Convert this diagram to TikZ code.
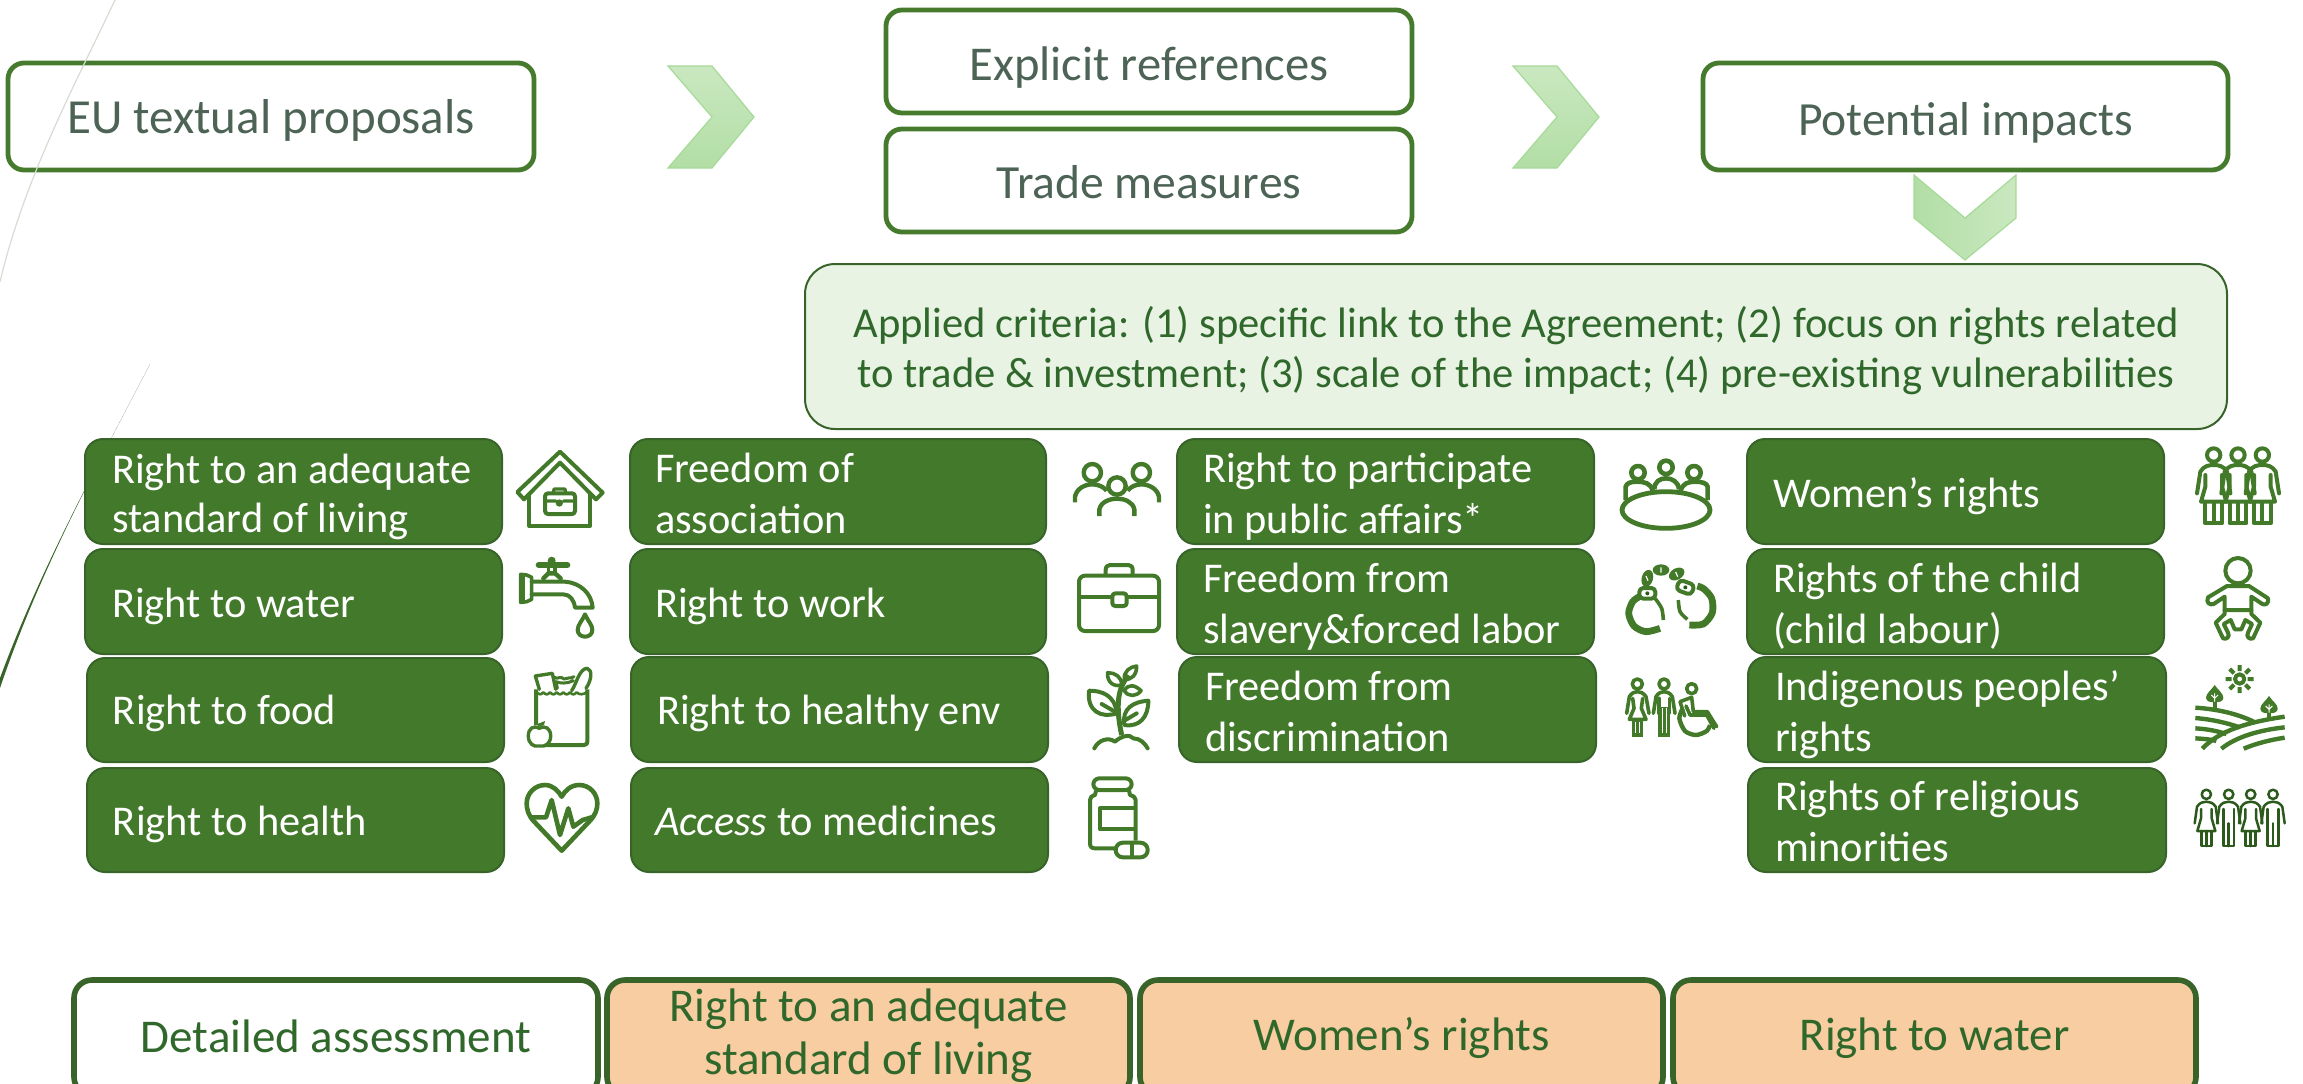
\documentclass[tikz,border=0pt]{standalone}
\usepackage{fontspec}
\setmainfont{Carlito}
\definecolor{boxgreen}{HTML}{43792B}
\definecolor{boxedge}{HTML}{38642A}
\definecolor{topedge}{HTML}{467A2D}
\definecolor{icongreen}{HTML}{437A2A}
\definecolor{icondark}{HTML}{2C5A1C}
\definecolor{slatetext}{HTML}{4C6355}
\definecolor{greentext}{HTML}{30682B}
\definecolor{critfill}{HTML}{E8F3E4}
\definecolor{orangefill}{HTML}{F7CDA1}
\definecolor{chevlight}{HTML}{CAE8C0}
\definecolor{chevdark}{HTML}{B2DEA5}
\definecolor{chevedge}{HTML}{A6DA98}
\definecolor{thincurve}{HTML}{D6DDD2}
\newcommand{\tl}[3][24.5pt]{\vtop{\baselineskip=#1\lineskiplimit=-100pt\hbox{#2}\hbox{#3}}}
\newcommand{\ctl}[3][28pt]{\vtop{\baselineskip=#1\lineskiplimit=-100pt\halign{\hfil##\hfil\cr #2\cr #3\cr}}}
% left aligned box: style,name,x1,y1,x2,y2,text x,baseline y,text
\newcommand{\rb}[9]{%
  \pgfmathsetmacro\rbw{(#5-#3)*0.5}\pgfmathsetmacro\rbh{(#6-#4)*0.5}%
  \pgfmathsetmacro\rbi{(#7-#3)*0.5}\pgfmathsetmacro\rbd{(#8-(#4+#6)/2)*0.5}%
  \node[#1,minimum width=\rbw pt,minimum height=\rbh pt] (#2) at ({(#3+#5)/2},{(#4+#6)/2})
    {\makebox[\rbw pt][l]{\hspace*{\rbi pt}\raisebox{-\rbd pt}[0pt][0pt]{#9}}};}
% centred box: style,name,x1,y1,x2,y2,baseline y,text
\newcommand{\cb}[8]{%
  \pgfmathsetmacro\rbw{(#5-#3)*0.5}\pgfmathsetmacro\rbh{(#6-#4)*0.5}%
  \pgfmathsetmacro\rbd{(#7-(#4+#6)/2)*0.5}%
  \node[#1,minimum width=\rbw pt,minimum height=\rbh pt] (#2) at ({(#3+#5)/2},{(#4+#6)/2})
    {\makebox[\rbw pt][c]{\raisebox{-\rbd pt}[0pt][0pt]{#8}}};}
\tikzset{
  basebox/.style={rectangle,inner sep=0pt,outer sep=0pt},
  greenbox/.style={basebox,rounded corners=9pt,draw=boxedge,line width=1pt,fill=boxgreen,text=white,font=\fontsize{21.2}{25}\selectfont},
  topbox/.style={basebox,rounded corners=8pt,draw=topedge,line width=2.4pt,fill=white,text=slatetext,font=\fontsize{23.8}{28}\selectfont},
  critbox/.style={basebox,rounded corners=15pt,draw=boxedge,line width=1pt,fill=critfill,text=greentext,font=\fontsize{21.3}{25}\selectfont},
  botbox/.style={basebox,rounded corners=9pt,draw=boxedge,line width=2.8pt,text=greentext,font=\fontsize{23.5}{28}\selectfont},
  chevv/.style={draw=chevedge,line width=.6pt,top color=chevlight,bottom color=chevdark},
  chevh/.style={draw=chevedge,line width=.6pt,left color=chevdark,right color=chevlight},
  icon/.style={draw=icongreen,line width=2pt,line join=round,line cap=round},
  thinperson/.style={draw=icondark,line width=1.25pt,line join=round,line cap=round},
  zoomed/.style={x=0.16667pt,y=-0.16667pt},
}
\newcommand{\womanA}[1]{\begin{scope}[shift={(#1,0)}]
  \draw[icon] (0,45) circle (20);
  \draw[icon] (-50,160) -- (-40,95) .. controls (-30,78) and (-15,75) .. (0,75) .. controls (15,75) and (30,78) .. (40,95) -- (50,160);
  \draw[icon] (-25,105) -- (-25,140) -- (-38,185) -- (38,185) -- (25,140) -- (25,105);
  \draw[icon,line cap=butt] (-25,185) -- (-25,250) -- (25,250) -- (25,185) (0,185) -- (0,250);
\end{scope}}
\newcommand{\womanB}[1]{\begin{scope}[shift={(#1,0)}]
  \draw[thinperson] (0,403) circle (14);
  \draw[thinperson] (-35,490) -- (-28,440) .. controls (-20,428) and (-10,425) .. (0,425) .. controls (10,425) and (20,428) .. (28,440) -- (35,490);
  \draw[thinperson] (-16,447) -- (-16,475) -- (-27,513) -- (27,513) -- (16,475) -- (16,447);
  \draw[thinperson] (-15,513) -- (-15,558) -- (15,558) -- (15,513) (0,513) -- (0,558);
\end{scope}}
\newcommand{\manB}[1]{\begin{scope}[shift={(#1,0)}]
  \draw[thinperson] (0,403) circle (14);
  \draw[thinperson] (-35,490) -- (-28,440) .. controls (-20,428) and (-10,425) .. (0,425) .. controls (10,425) and (20,428) .. (28,440) -- (35,490);
  \draw[thinperson] (-16,447) -- (-16,558) -- (16,558) -- (16,447) (0,490) -- (0,558);
\end{scope}}
\newcommand{\treeleaf}[2]{\begin{scope}[shift={(#1,#2)}]
  \fill[icongreen] (0,0) .. controls (-10,15) and (-26,25) .. (-26,38) .. controls (-26,50) and (-12,52) .. (0,52) .. controls (12,52) and (26,50) .. (26,38) .. controls (26,25) and (10,15) .. (0,0) -- cycle;
  \draw[white,line width=.5pt] (0,25) -- (0,50) (-10,30) -- (0,40) (10,30) -- (0,40);
\end{scope}}
\begin{document}
\begin{tikzpicture}[x=0.5pt,y=-0.5pt]
\useasboundingbox (0,0) rectangle (2303,1083);
\clip (0,0) rectangle (2303,1083);
\fill[white] (0,0) rectangle (2303,1083);
% decorative curve behind the boxes
\fill[boxedge] (150,364) .. controls (95,470) and (40,570) .. (0,678) -- (0,688) .. controls (40,570) and (95,470) .. cycle;
% top row
\cb{topbox,font=\fontsize{24.5}{28}\selectfont}{eu}{8}{63}{534}{170}{133}{EU textual proposals}
\cb{topbox,font=\fontsize{24.3}{28}\selectfont}{explicit}{886}{10}{1412}{113}{80}{Explicit references}
\cb{topbox}{trade}{886}{129}{1412}{232}{198}{Trade measures}
\cb{topbox}{impacts}{1703}{63}{2228}{170}{135}{Potential impacts}
% thin decorative curve lies over the first box
\draw[thincurve,line width=.6pt] (115,0) .. controls (80,75) and (25,175) .. (0,282);
\draw[chevv] (668,66) -- (712,66) -- (754,117) -- (712,168) -- (668,168) -- (712,117) -- cycle;
\draw[chevv] (1513,66) -- (1557,66) -- (1599,117) -- (1557,168) -- (1513,168) -- (1557,117) -- cycle;
\draw[chevh] (1914,175) -- (1965,218) -- (2016,175) -- (2016,218) -- (1965,260) -- (1914,218) -- cycle;
% criteria
\cb{critbox}{criteria}{805}{264}{2227}{429}{337}{\ctl[25pt]{Applied criteria: (1) specific link to the Agreement; (2) focus on rights related}{to trade \& investment; (3) scale of the impact; (4) pre-existing vulnerabilities}}
% column 1
\rb{greenbox}{r11}{85}{439}{502}{544}{112}{483}{\tl{Right to an adequate}{standard of living}}
\rb{greenbox}{r12}{85}{549}{502}{654}{112}{617}{Right to water}
\rb{greenbox}{r13}{87}{658}{504}{762}{113}{724}{Right to food}
\rb{greenbox}{r14}{87}{768}{504}{872}{113}{835}{Right to health}
% column 2
\rb{greenbox}{r21}{630}{439}{1046}{544}{655}{482}{\tl[25.5pt]{Freedom of}{association}}
\rb{greenbox}{r22}{630}{549}{1046}{654}{655}{617}{Right to work}
\rb{greenbox}{r23}{631}{657}{1048}{762}{657}{724}{Right to healthy env}
\rb{greenbox}{r24}{631}{768}{1048}{872}{655}{835}{{\itshape Access} to medicines}
% column 3
\rb{greenbox}{r31}{1177}{439}{1594}{544}{1203}{482}{\tl[25.5pt]{Right to participate}{in public affairs*}}
\rb{greenbox}{r32}{1177}{549}{1594}{654}{1203}{592}{\tl[25.5pt]{Freedom from}{slavery\&forced labor}}
\rb{greenbox}{r33}{1179}{657}{1596}{762}{1205}{700}{\tl[25.5pt]{Freedom from}{discrimination}}
% column 4
\rb{greenbox}{r41}{1747}{439}{2164}{544}{1773}{507}{Women’s rights}
\rb{greenbox}{r42}{1747}{549}{2164}{654}{1773}{592}{\tl[25.5pt]{Rights of the child}{(child labour)}}
\rb{greenbox}{r43}{1748}{657}{2166}{762}{1775}{700}{\tl[25.5pt]{Indigenous peoples’}{rights}}
\rb{greenbox}{r44}{1748}{768}{2166}{872}{1775}{810}{\tl[25.5pt]{Rights of religious}{minorities}}
% bottom row
\cb{botbox,fill=white}{detailed}{74}{980}{598}{1095}{1052}{Detailed assessment}
\cb{botbox,fill=orangefill}{adequate}{607}{980}{1130}{1095}{1021}{\ctl[26.5pt]{Right to an adequate}{standard of living}}
\cb{botbox,fill=orangefill}{women}{1140}{980}{1663}{1095}{1050}{Women’s rights}
\cb{botbox,fill=orangefill}{water}{1673}{980}{2196}{1095}{1050}{Right to water}
% ---- icons column 1, upper
\begin{scope}[shift={(510,440)},zoomed]
  \draw[icon] (150,35) -- (278,158) -- (258,178) -- (150,68) -- (42,178) -- (22,156) -- cycle;
  \draw[icon,line cap=butt] (58,160) -- (58,258) -- (240,258) -- (240,158);
  \draw[icon,rounded corners=1.5pt] (105,160) rectangle (195,222);
  \draw[icon,line width=1.6pt] (130,158) -- (132,147) -- (165,147) -- (167,158) (105,183) -- (138,183) (160,183) -- (195,183);
  \fill[icongreen] (148,189) circle (11);
  \draw[icon,line width=3pt] (86,375) -- (172,375);
  \fill[icongreen] (125,362) circle (12);
  \draw[icon,line width=1.6pt] (115,378) -- (115,400) (135,378) -- (135,400);
  \draw[icon,line width=2.2pt] (100,415) -- (115,400) -- (135,400) -- (152,415);
  \draw[icon,line width=1.8pt] (32,403) -- (50,405) -- (65,412) -- (65,478) -- (50,485) -- (32,487) -- cycle;
  \fill[icongreen] (32,403) rectangle (44,487);
  \draw[icon] (65,425) -- (165,425) .. controls (210,428) and (245,460) .. (248,503) -- (195,503) .. controls (192,480) and (180,463) .. (160,463) -- (65,463);
  \draw[icon] (225,523) .. controls (215,545) and (203,555) .. (203,570) .. controls (203,582) and (213,590) .. (225,590) .. controls (237,590) and (247,582) .. (247,570) .. controls (247,555) and (235,545) .. (225,523) -- cycle;
\end{scope}
% ---- icons column 1, lower
\begin{scope}[shift={(510,660)},zoomed]
  \draw[icon,line cap=butt] (78,88) -- (78,195) (108,255) -- (222,255) .. controls (230,255) and (232,250) .. (232,245) -- (232,88);
  \draw[icon,line width=1.3pt] (78,95) .. controls (88,105) and (92,105) .. (100,97) .. controls (108,105) and (112,105) .. (120,97) .. controls (128,105) and (132,105) .. (140,97) .. controls (148,105) and (152,105) .. (160,97) .. controls (168,105) and (172,105) .. (180,97) .. controls (188,105) and (192,105) .. (200,97) .. controls (208,105) and (220,105) .. (232,95);
  \draw[icon,line width=1.7pt] (88,88) -- (76,48) -- (127,40) -- (137,88);
  \draw[icon,line width=1.5pt] (133,52) .. controls (145,60) and (150,45) .. (162,57) .. controls (172,50) and (180,58) .. (192,50) (142,85) -- (138,65) .. controls (150,70) and (170,72) .. (190,62);
  \draw[icon,line width=1.7pt] (185,92) .. controls (200,70) and (208,25) .. (232,25) .. controls (248,30) and (245,60) .. (228,85);
  \draw[icon,line width=1.7pt] (88,205) .. controls (70,195) and (55,205) .. (55,228) .. controls (55,250) and (70,262) .. (88,258) .. controls (106,262) and (122,250) .. (122,228) .. controls (122,205) and (106,195) .. (88,205) -- cycle;
  \fill[icongreen] (82,192) -- (105,183) -- (102,195) -- (85,200) -- cycle;
  \draw[icon,line width=2.3pt] (155,572) -- (70,482) .. controls (55,465) and (50,448) .. (50,430) .. controls (50,400) and (75,375) .. (105,375) .. controls (128,375) and (145,392) .. (155,410) .. controls (165,392) and (182,375) .. (208,375) .. controls (238,375) and (262,400) .. (262,430) .. controls (262,448) and (256,465) .. (240,482) -- cycle;
  \draw[icon,line width=2.3pt] (65,472) -- (108,472) -- (125,420) -- (150,525) -- (175,445) -- (190,500) -- (218,480) -- (245,472);
\end{scope}
% ---- icons column 2
\begin{scope}[shift={(1065,450)},zoomed]
  \draw[icon,line width=2.2pt] (82,68) circle (26) (229,68) circle (26) (156,108) circle (26);
  \draw[icon,line width=2.2pt,line cap=butt] (30,157) -- (30,140) .. controls (35,115) and (60,103) .. (82,103) .. controls (100,103) and (115,110) .. (125,122);
  \draw[icon,line width=2.2pt,line cap=butt] (282,157) -- (282,140) .. controls (277,115) and (250,103) .. (229,103) .. controls (212,103) and (197,110) .. (188,122);
  \draw[icon,line width=2.2pt,line cap=butt] (103,198) -- (103,178) .. controls (108,155) and (135,146) .. (156,146) .. controls (178,146) and (203,155) .. (208,178) -- (208,198);
  \draw[icon,rounded corners=3pt] (42,377) rectangle (282,543);
  \draw[icon,line cap=butt] (122,377) -- (122,360) .. controls (122,350) and (128,345) .. (135,345) -- (190,345) .. controls (198,345) and (203,350) .. (203,360) -- (203,377);
  \draw[icon,line cap=butt] (42,442) -- (142,442) (185,442) -- (282,442);
  \draw[icon,rounded corners=1.5pt] (142,430) rectangle (185,468);
  \draw[icon,line width=2.5pt,line cap=butt] (170,855) .. controls (160,810) and (155,760) .. (165,725) .. controls (172,700) and (180,690) .. (190,675);
  \draw[icon] (72,722) .. controls (110,722) and (150,735) .. (155,790) .. controls (110,805) and (65,785) .. (72,722) -- cycle;
  \draw[icon] (110,762) -- (155,788);
  \draw[icon] (250,752) .. controls (205,755) and (170,775) .. (178,825) .. controls (225,832) and (250,800) .. (250,752) -- cycle;
  \draw[icon] (215,790) -- (178,812);
  \draw[icon,line width=1.8pt] (128,668) .. controls (150,668) and (170,680) .. (170,705) .. controls (145,712) and (125,695) .. (128,668) -- cycle;
  \draw[icon,line width=1.8pt] (215,648) .. controls (195,650) and (175,665) .. (178,688) .. controls (200,690) and (215,675) .. (215,648) -- cycle;
  \draw[icon,line width=1.8pt] (228,722) .. controls (210,705) and (190,700) .. (178,722) .. controls (190,742) and (215,740) .. (228,722) -- cycle;
  \draw[icon] (88,895) .. controls (100,870) and (130,860) .. (150,875) .. controls (165,860) and (195,850) .. (205,865) .. controls (225,865) and (240,880) .. (248,895);
  \draw[icon,rounded corners=3pt] (85,985) rectangle (200,1020);
  \draw[icon,line cap=butt] (93,1022) -- (90,1035) .. controls (80,1038) and (75,1042) .. (75,1050) -- (75,1180) .. controls (75,1190) and (80,1195) .. (90,1195) -- (148,1195);
  \draw[icon,line cap=butt] (192,1022) -- (195,1035) .. controls (205,1038) and (212,1042) .. (212,1050) -- (212,1172);
  \draw[icon,line cap=butt] (212,1075) -- (105,1075) -- (105,1138) -- (212,1138);
  \draw[icon,rounded corners=3.6pt] (152,1178) rectangle (248,1222);
  \draw[icon,line cap=butt] (200,1178) -- (200,1222);
\end{scope}
% ---- icons column 3
\begin{scope}[shift={(1610,450)},zoomed]
  \draw[icon,line width=2.4pt] (168,180) ellipse (132 and 55);
  \draw[icon,line width=2.3pt] (84,68) circle (20) (168,52) circle (20) (252,68) circle (20);
  \draw[icon,line width=2.3pt,line cap=butt] (47,150) -- (47,110) .. controls (50,100) and (60,95) .. (80,95) .. controls (105,95) and (122,100) .. (128,122);
  \draw[icon,line width=2.3pt,line cap=butt] (133,118) .. controls (133,95) and (150,85) .. (168,85) .. controls (186,85) and (205,95) .. (207,118);
  \draw[icon,line width=2.3pt,line cap=butt] (212,122) .. controls (218,100) and (235,95) .. (255,95) .. controls (278,95) and (290,100) .. (293,110) -- (293,150);
  \draw[icongreen,line width=3.4pt,line cap=butt] plot[smooth] coordinates {(150,535) (108,545) (72,528) (56,490) (68,455) (88,440)};
  \draw[icongreen,line width=1.8pt,line cap=butt] plot[smooth] coordinates {(135,445) (155,475) (160,510)};
  \draw[icon,rounded corners=2pt] (88,414) rectangle (136,446);
  \fill[icondark] (112,430) circle (6);
  \draw[icongreen,line width=3.4pt,line cap=butt] plot[smooth] coordinates {(238,525) (280,522) (307,488) (305,445) (282,417) (262,408)};
  \draw[icongreen,line width=1.8pt,line cap=butt] plot[smooth] coordinates {(232,508) (210,485) (205,450)};
  \draw[icon,rounded corners=2pt,rotate around={-20:(226,412)}] (202,396) rectangle (250,428);
  \fill[icondark] (226,412) circle (6);
  \fill[icongreen,rotate around={75:(112,385)}] (112,385) ellipse (26 and 17);
  \fill[icongreen] (153,360) ellipse (25 and 17);
  \fill[icongreen,rotate around={30:(200,372)}] (200,372) ellipse (25 and 17);
  \draw[white,line width=.6pt] (108,378) -- (114,392) (153,352) -- (153,368) (197,366) -- (203,380);
  % woman and man
  \draw[icon,line width=1.8pt] (82,702) circle (15) (162,702) circle (15);
  \draw[icon,line width=1.8pt] (50,790) -- (58,740) .. controls (65,728) and (75,725) .. (82,725) .. controls (90,725) and (100,728) .. (108,740) -- (117,790);
  \draw[icon,line width=1.8pt] (68,745) -- (72,775) -- (58,808) -- (108,808) -- (94,775) -- (98,745);
  \fill[icongreen] (66,808) rectangle (100,860);
  \draw[white,line width=.4pt] (77,815) -- (77,850) (89,815) -- (89,850);
  \draw[icon,line width=1.8pt] (130,790) -- (138,740) .. controls (145,728) and (155,725) .. (162,725) .. controls (170,725) and (180,728) .. (187,740) -- (195,790);
  \draw[icon,line width=1.8pt] (147,745) -- (147,790) (178,745) -- (178,790);
  \fill[icongreen] (145,770) rectangle (180,860);
  \draw[white,line width=.4pt] (156,775) -- (156,850) (169,775) -- (169,850);
  % wheelchair
  \draw[icon,line width=1.8pt] (245,716) circle (15);
  \draw[icon,line width=1.8pt] (224,798) -- (210,755) -- (245,742) -- (250,785) -- (292,785) -- (320,830);
  \draw[icon,line width=1.8pt] (228,768) -- (240,795) -- (290,795) -- (312,835);
  \draw[icon,line width=2.2pt,line cap=butt] plot[smooth] coordinates {(218,775) (208,805) (225,843) (258,855) (290,843) (300,825)};
\end{scope}
% ---- icons column 4, upper
\begin{scope}[shift={(2183,440)},zoomed]
  \womanA{92}\womanA{165}\womanA{238}
  \draw[icon] (165,392) circle (38);
  \draw[icon] (132,438) -- (198,438) -- (255,475) .. controls (258,490) and (248,497) .. (238,492) -- (205,470) -- (205,510) -- (125,510) -- (125,470) -- (92,492) .. controls (80,497) and (68,487) .. (75,472) -- cycle;
  \draw[icon] (125,510) -- (125,522) -- (98,548) -- (120,595) .. controls (130,600) and (142,590) .. (135,578) -- (122,552) -- (143,540) -- (155,568) -- (175,568) -- (187,540) -- (207,552) -- (195,578) .. controls (188,590) and (200,600) .. (210,595) -- (232,548) -- (205,522) -- (205,510);
\end{scope}
% ---- icons column 4, lower
\begin{scope}[shift={(2183,660)},zoomed]
  \draw[icon,line width=2pt] (170,57) circle (14);
  \draw[icon,line width=2pt,line cap=butt] (170,15) -- (170,33) (170,81) -- (170,99) (128,57) -- (146,57) (194,57) -- (212,57) (140,27) -- (153,40) (187,74) -- (200,87) (200,27) -- (187,40) (153,74) -- (140,87);
  \treeleaf{95}{75}\treeleaf{258}{108}
  \draw[icon,line cap=butt,line width=2pt] (95,125) -- (95,148) (258,160) -- (258,178);
  \begin{scope}[icon,line cap=butt,line width=2.2pt]
    \draw (37,143) .. controls (100,147) and (160,160) .. (212,185);
    \draw (37,174) .. controls (85,178) and (130,188) .. (170,202);
    \draw (37,205) .. controls (70,207) and (100,212) .. (130,222);
    \draw (37,235) .. controls (55,236) and (85,238) .. (100,243);
    \draw (58,266) .. controls (110,210) and (200,185) .. (305,170);
    \draw (115,266) .. controls (160,230) and (230,210) .. (305,202);
    \draw (182,266) .. controls (220,250) and (260,240) .. (305,233);
  \end{scope}
  \womanB{70}\manB{137}\womanB{203}\manB{270}
\end{scope}
\end{tikzpicture}
\end{document}
